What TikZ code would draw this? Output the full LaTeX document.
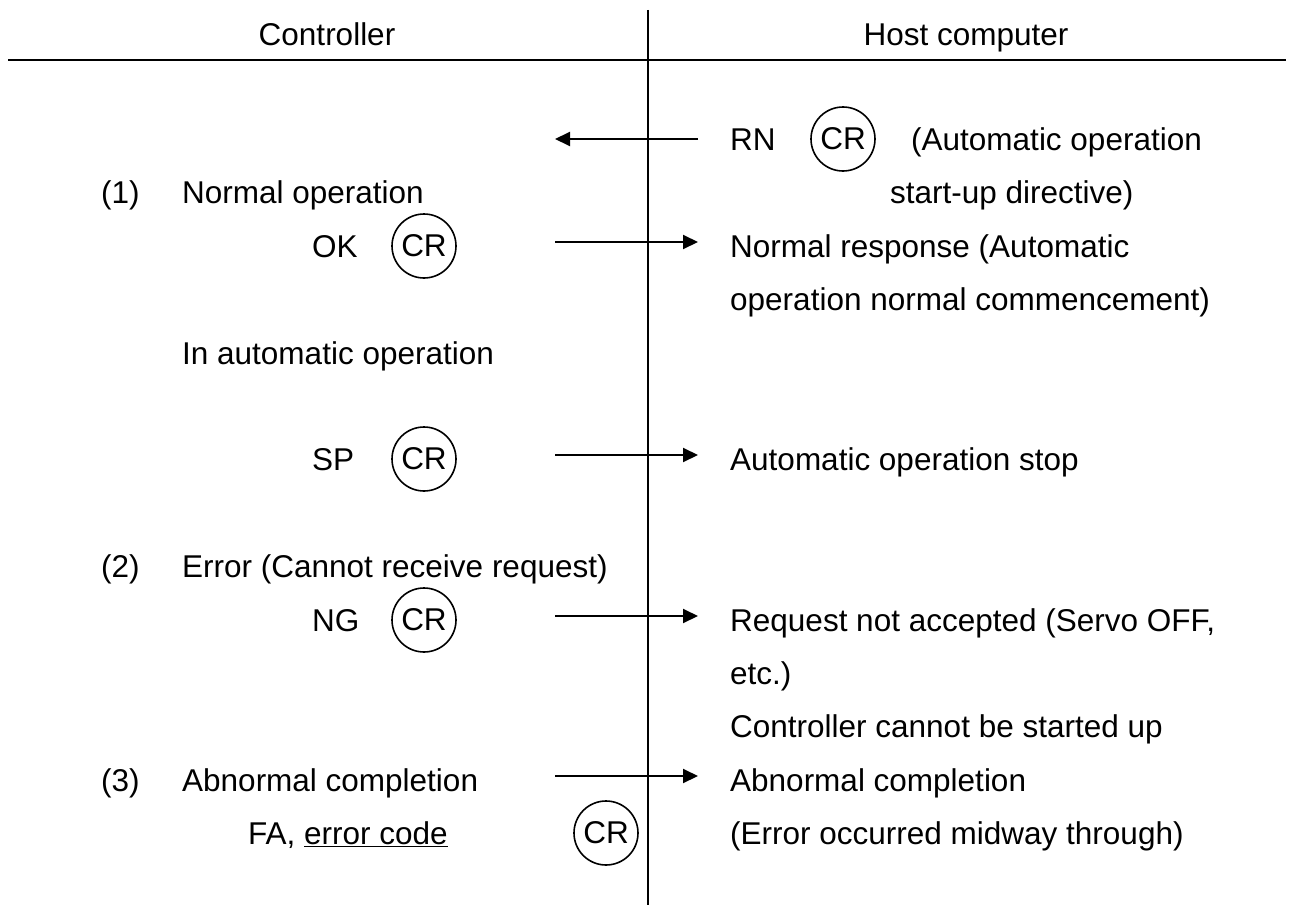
\documentclass[tikz,border=0pt]{standalone}
\usepackage{fontspec}
\setmainfont{Liberation Sans}
\usetikzlibrary{arrows.meta}

\tikzset{
  txt/.style={anchor=base west, inner sep=0pt},
  head/.style={anchor=base, inner sep=0pt},
  cr/.style={circle, draw, line width=1.6pt, minimum size=64pt, inner sep=0pt},
  msg/.style={line width=2pt, -{Triangle[length=15pt,width=14pt]}}
}

\begin{document}
\begin{tikzpicture}[x=1pt,y=-1pt,font=\fontsize{31.5}{38}\selectfont]
  \useasboundingbox (0,0) rectangle (1291,907);
  % header and the two sides
  \draw[line width=2.6pt] (8,60) -- (1286,60);
  \draw[line width=2pt] (648,10) -- (648,905);
  \node[head] (ctrl) at (327,46) {Controller};
  \node[head] (host) at (966,46) {Host computer};

  % host computer side
  \node[txt] (rn) at (730,150) {RN};
  \node[cr] (rncr) at (843,139) {CR};
  \node[txt] (rntxt) at (911,150) {(Automatic operation};
  \node[txt] (rntxtb) at (890,203) {start-up directive)};
  \node[txt] (okr) at (730,257) {Normal response (Automatic};
  \node[txt] (okrb) at (730,310) {operation normal commencement)};
  \node[txt] (spr) at (730,470) {Automatic operation stop};
  \node[txt] (ngr) at (730,631) {Request not accepted (Servo OFF,};
  \node[txt] (ngrb) at (730,684) {etc.)};
  \node[txt] (ngrc) at (730,737) {Controller cannot be started up};
  \node[txt] (far) at (730,791) {Abnormal completion};
  \node[txt] (farb) at (730,844) {(Error occurred midway through)};

  % controller side
  \node[txt] (n1) at (101,203) {(1)};
  \node[txt] (n1t) at (182,203) {Normal operation};
  \node[txt] (ok) at (312,257) {OK};
  \node[cr] (okcr) at (424,246) {CR};
  \node[txt] (auto) at (182,364) {In automatic operation};
  \node[txt] (sp) at (312,470) {SP};
  \node[cr] (spcr) at (424,459) {CR};
  \node[txt] (n2) at (101,577) {(2)};
  \node[txt] (n2t) at (182,577) {Error (Cannot receive request)};
  \node[txt] (ng) at (312,631) {NG};
  \node[cr] (ngcr) at (424,620) {CR};
  \node[txt] (n3) at (101,791) {(3)};
  \node[txt] (n3t) at (182,791) {Abnormal completion};
  \node[txt] (fa) at (248,844) {FA, \underline{error code}};
  \node[cr] (facr) at (606,833) {CR};

  % messages
  \coordinate (rn-r) at (698,139);
  \coordinate (rn-l) at (555,139);
  \draw[msg] (rn-r) -- (rn-l);
  \foreach \y/\n in {242/ok,455/sp,616/ng,776/fa}{
    \coordinate (\n-l) at (555,\y);
    \coordinate (\n-r) at (698,\y);
    \draw[msg] (\n-l) -- (\n-r);
  }
\end{tikzpicture}
\end{document}
